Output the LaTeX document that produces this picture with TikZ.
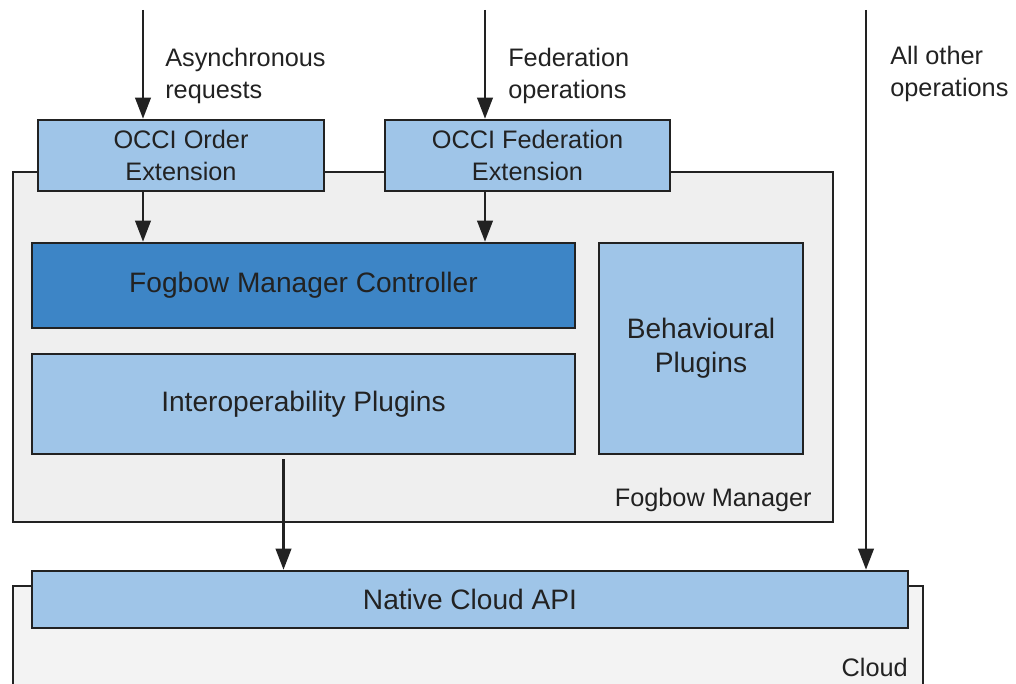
\documentclass[tikz,border=0pt]{standalone}
\usepackage{fontspec}
\setmainfont{Liberation Sans}
\usetikzlibrary{calc, arrows.meta, positioning}

\definecolor{lightblue}{HTML}{9FC5E8}
\definecolor{darkblue}{HTML}{3D85C6}
\definecolor{mgrgray}{HTML}{EFEFEF}
\definecolor{cloudgray}{HTML}{F3F3F3}
\definecolor{ink}{HTML}{222222}

\begin{document}
\begin{tikzpicture}[
		block/.style = {draw=ink, line width=1.8pt, fill=lightblue, rectangle, align=center, text=ink, font=\fontsize{20}{24}\selectfont},
		extblock/.style = {block, font=\fontsize{18}{22.8}\selectfont},
		lbl/.style = {inner sep=0pt, align=left, text=ink, font=\fontsize{18}{22.8}\selectfont},
		flow/.style = {-{Triangle[length=15pt, width=11pt]}, line width=1.8pt, draw=ink}
	]

	\useasboundingbox (0,0) rectangle (25.4,-17.1);

	% backgrounds
	\draw[draw=ink, line width=1.8pt, fill=mgrgray] (0.325,-4.3) rectangle (20.825,-13.05);
	\draw[draw=ink, line width=1.8pt, fill=cloudgray] (0.325,-17.3) |- (23.075,-14.65) -- (23.075,-17.3);

	\node[extblock, minimum width=7.15cm, minimum height=1.775cm] (order) at (4.525,-3.8875) {OCCI Order\\Extension};
	\node[extblock, minimum width=7.125cm, minimum height=1.775cm] (federation) at (13.1875,-3.8875) {OCCI Federation\\Extension};
	\node[block, fill=darkblue, minimum width=13.575cm, minimum height=2.125cm] (controller) at (7.5875,-7.1375) {Fogbow Manager Controller};
	\node[block, minimum width=13.575cm, minimum height=2.5cm] (interop) at (7.5875,-10.1) {Interoperability Plugins};
	\node[block, minimum width=5.1cm, minimum height=5.275cm] (behaviour) at (17.525,-8.7125) {Behavioural\\Plugins};
	\node[block, minimum width=21.9cm, minimum height=1.425cm] (native) at (11.75,-14.9875) {Native Cloud API};

	\node[lbl, anchor=east] (manager) at (20.3,-12.5) {Fogbow Manager};
	\node[lbl, anchor=east] (cloud) at (22.7,-16.675) {Cloud};

	% incoming requests
	\coordinate (asyncin) at (3.575,-0.25);
	\coordinate (fedin) at (12.125,-0.25);
	\coordinate (otherin) at (21.65,-0.25);
	\node[lbl, anchor=west] (async) at (4.125,-1.9) {Asynchronous\\requests};
	\node[lbl, anchor=west] (fedops) at (12.7,-1.9) {Federation\\operations};
	\node[lbl, anchor=west] (otherops) at (22.25,-1.85) {All other\\operations};

	\draw[flow] (asyncin) -- (asyncin |- order.north);
	\draw[flow] (fedin) -- (fedin |- federation.north);
	\draw[flow] (otherin) -- (otherin |- native.north);
	\draw[flow] (asyncin |- order.south) -- (asyncin |- controller.north);
	\draw[flow] (fedin |- federation.south) -- (fedin |- controller.north);
	\draw[flow] ([xshift=-0.5cm, yshift=-0.1cm]interop.south) -- ([xshift=-0.5cm]interop.south |- native.north);
\end{tikzpicture}
\end{document}
